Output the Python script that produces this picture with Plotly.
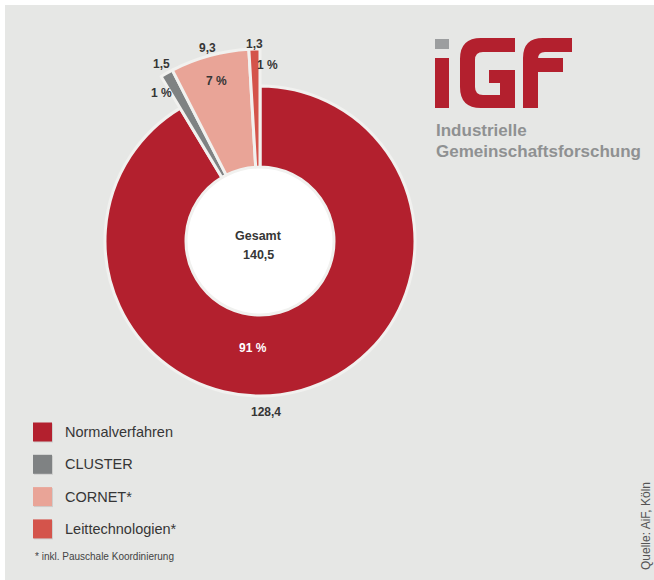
import math
import plotly.graph_objects as go

# ---------------- data ----------------
categories = ["Normalverfahren", "CLUSTER", "CORNET*", "Leittechnologien*"]
values = [128.4, 1.5, 9.3, 1.3]
colors = ["#b3202e", "#7f8283", "#e9a497", "#d4544b"]
center_title = "Gesamt"
footnote = "* inkl. Pauschale Koordinierung"
source = "Quelle: AiF, Köln"
logo_lines = ["Industrielle", "Gemeinschaftsforschung"]

# ---------------- layout constants ----------------
W, H = 654, 580
BG = "#e6e7e5"
GAP = "#f1f1ef"
RED = "#b3202e"
TXT = "#363636"
FONT = "Liberation Sans, Arial, sans-serif"
CX, CY = 260, 241
R_MAIN, R_HOLE, R_OUT = 155, 74, 192


def px(x):
    return x / W


def py(y):
    return 1 - y / H


def dom(r):
    return dict(x=[px(CX - r), px(CX + r)], y=[py(CY + r), py(CY - r)])


total = sum(values)


def fmt(v):
    return f"{v:.1f}".replace(".", ",")


pct = [round(v / total * 100) for v in values]

# mid angles (degrees clockwise from 12 o'clock)
mids = []
cum = 0
for v in values:
    mids.append((cum + v / 2) / total * 360)
    cum += v

fig = go.Figure()

# white centre disc
fig.add_trace(go.Pie(
    values=[1], labels=["centre"], marker=dict(colors=["white"], line=dict(width=0)),
    domain=dom(R_HOLE), textinfo="none", hoverinfo="skip", showlegend=False, sort=False,
))

# main ring (only the big slice visible)
fig.add_trace(go.Pie(
    values=values, labels=categories,
    marker=dict(colors=[colors[0]] + ["rgba(0,0,0,0)"] * 3,
                line=dict(color=GAP, width=[3, 0, 0, 0])),
    domain=dom(R_MAIN), hole=R_HOLE / R_MAIN, sort=False, direction="clockwise",
    rotation=0, textinfo="none", showlegend=False,
))

# extended ring for the small slices
fig.add_trace(go.Pie(
    values=values, labels=categories,
    marker=dict(colors=["rgba(0,0,0,0)"] + colors[1:],
                line=dict(color=GAP, width=[0, 3, 3, 3])),
    domain=dom(R_OUT), hole=R_HOLE / R_OUT, sort=False, direction="clockwise",
    rotation=0, textinfo="none", showlegend=False,
))

annotations = []
shapes = []


def pos(angle, r):
    a = math.radians(angle)
    return px(CX + r * math.sin(a)), py(CY - r * math.cos(a))


# (angle offset, radius) for value label and percent label of each slice
value_pos = [(13.5, 171), (0, 203), (0, 200), (0, 197)]
pct_pos = [(19.0, 107), (-4.5, 178), (0, 166), (4.2, 176)]
pct_col = ["white", TXT, TXT, TXT]

for i, v in enumerate(values):
    x, y = pos(mids[i] + value_pos[i][0], value_pos[i][1])
    annotations.append(dict(x=x, y=y, xref="paper", yref="paper", text=f"<b>{fmt(v)}</b>",
                            showarrow=False, xanchor="center", yanchor="middle",
                            font=dict(family=FONT, size=12, color=TXT)))
    x, y = pos(mids[i] + pct_pos[i][0], pct_pos[i][1])
    annotations.append(dict(x=x, y=y, xref="paper", yref="paper", text=f"<b>{pct[i]} %</b>",
                            showarrow=False, xanchor="center", yanchor="middle",
                            font=dict(family=FONT, size=12, color=pct_col[i])))

# centre text
annotations.append(dict(x=px(258), y=py(236), xref="paper", yref="paper",
                        text=f"<b>{center_title}</b>", showarrow=False,
                        font=dict(family=FONT, size=12.5, color=TXT)))
annotations.append(dict(x=px(258), y=py(255), xref="paper", yref="paper",
                        text=f"<b>{fmt(total)}</b>", showarrow=False,
                        font=dict(family=FONT, size=12.5, color=TXT)))

# custom legend
for i, c in enumerate(categories):
    yc = 432 + i * 32.3
    shapes.append(dict(type="rect", xref="paper", yref="paper",
                       x0=px(34), x1=px(53), y0=py(yc + 9.5 + 1), y1=py(yc - 9.5 + 1),
                       fillcolor="rgba(0,0,0,0.10)", line=dict(width=0)))
    shapes.append(dict(type="rect", xref="paper", yref="paper",
                       x0=px(33), x1=px(52), y0=py(yc + 9.5), y1=py(yc - 9.5),
                       fillcolor=colors[i], line=dict(width=0)))
    annotations.append(dict(x=px(63), y=py(yc), xref="paper", yref="paper", text=c,
                            showarrow=False, xanchor="left", yanchor="middle",
                            font=dict(family=FONT, size=14.5, color=TXT)))

annotations.append(dict(x=px(33), y=py(556), xref="paper", yref="paper", text=footnote,
                        showarrow=False, xanchor="left", yanchor="middle",
                        font=dict(family=FONT, size=10, color="#444444")))

annotations.append(dict(x=px(646), y=py(526), xref="paper", yref="paper", text=source,
                        showarrow=False, xanchor="center", yanchor="middle", textangle=-90,
                        font=dict(family=FONT, size=12, color="#555555")))

# logo text
annotations.append(dict(x=px(434), y=py(130), xref="paper", yref="paper",
                        text=f"<b>{logo_lines[0]}</b>", showarrow=False,
                        xanchor="left", yanchor="middle",
                        font=dict(family=FONT, size=17, color="#8f9192")))
annotations.append(dict(x=px(434), y=py(151), xref="paper", yref="paper",
                        text=f"<b>{logo_lines[1]}</b>", showarrow=False,
                        xanchor="left", yanchor="middle",
                        font=dict(family=FONT, size=17, color="#8f9192")))


def path(cmds):
    out = []
    for c in cmds:
        if c[0] == "Z":
            out.append("Z")
        elif c[0] == "Q":
            out.append(f"Q{px(c[1]):.5f},{py(c[2]):.5f} {px(c[3]):.5f},{py(c[4]):.5f}")
        else:
            out.append(f"{c[0]}{px(c[1]):.5f},{py(c[2]):.5f}")
    return " ".join(out)


def rect(x0, y0, x1, y1, col):
    return dict(type="rect", xref="paper", yref="paper", x0=px(x0), x1=px(x1),
                y0=py(y1), y1=py(y0), fillcolor=col, line=dict(width=0))


# logo shapes
shapes.append(rect(435, 39, 449, 49, "#9c9e9f"))
shapes.append(rect(435, 58, 449, 108, RED))
g_path = [("M", 515, 38), ("L", 481, 38), ("Q", 460, 38, 460, 59), ("L", 460, 87),
          ("Q", 460, 108, 481, 108), ("L", 515, 108), ("L", 515, 70), ("L", 489, 70),
          ("L", 489, 83), ("L", 500, 83), ("L", 500, 95), ("L", 483, 95),
          ("Q", 475, 95, 475, 87), ("L", 475, 60), ("Q", 475, 52, 483, 52),
          ("L", 515, 52), ("Z",)]
shapes.append(dict(type="path", xref="paper", yref="paper", path=path(g_path),
                   fillcolor=RED, line=dict(width=0)))
f_path = [("M", 572, 38), ("L", 543, 38), ("Q", 523, 38, 523, 58), ("L", 523, 108),
          ("L", 538, 108), ("L", 538, 59), ("Q", 538, 52, 545, 52), ("L", 572, 52), ("Z",)]
shapes.append(dict(type="path", xref="paper", yref="paper", path=path(f_path),
                   fillcolor=RED, line=dict(width=0)))
shapes.append(rect(538, 58, 563, 72, RED))

# white frame strips (top / left)
shapes.append(rect(0, 0, W, 5, "white"))
shapes.append(rect(0, 0, 5, H, "white"))

fig.update_layout(
    width=W, height=H, margin=dict(l=0, r=0, t=0, b=0),
    paper_bgcolor=BG, plot_bgcolor=BG, showlegend=False,
    annotations=annotations, shapes=shapes,
    font=dict(family=FONT),
)

fig.write_html(
    "out.html",
    config={"displayModeBar": False},
    post_script="document.body.style.margin='0';document.body.style.overflow='hidden';",
)
